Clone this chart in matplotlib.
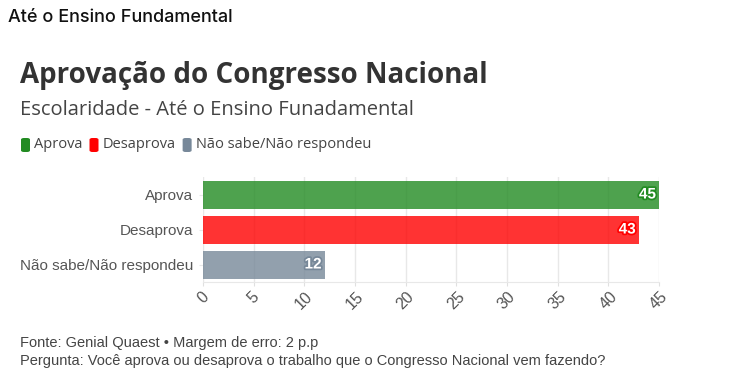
import matplotlib
matplotlib.use("Agg")
import matplotlib.pyplot as plt
import matplotlib.patheffects as pe
from matplotlib.patches import FancyBboxPatch

categories = ["Aprova", "Desaprova", "Não sabe/Não respondeu"]
values = [45, 43, 12]
base_colors = ["#228B22", "#FF0000", "#778899"]
x_ticks = [0, 5, 10, 15, 20, 25, 30, 35, 40, 45]

cond = "Liberation Sans"
head = "Open Sans"

W, H = 745, 390
fig = plt.figure(figsize=(W / 100, H / 100), dpi=100)
fig.patch.set_facecolor("white")

def fx(px):
    return px / W

def fy(py):
    return 1 - py / H

ax = fig.add_axes([fx(203), fy(282), fx(659) - fx(203), (282 - 177) / H])
y = list(range(len(categories)))
ax.barh(y, values, height=0.8, color=base_colors, alpha=0.8, zorder=2)
ax.set_ylim(2.5, -0.5)
ax.set_xlim(0, 45)
ax.set_yticks(y)
ax.set_yticklabels(categories, fontsize=11, color="#555555", family=cond)
ax.set_xticks(x_ticks)
ax.set_xticklabels([str(t) for t in x_ticks], rotation=45, fontsize=11.5,
                   color="#555555", family=cond)
ax.grid(axis="x", color="#e8e8e8", linewidth=1, zorder=0)
ax.grid(axis="y", visible=False)
for s in ["top", "right", "left"]:
    ax.spines[s].set_visible(False)
ax.spines["bottom"].set_color("#e8e8e8")
ax.tick_params(axis="x", length=3, color="#e0e0e0", pad=2)
ax.tick_params(axis="y", length=3, color="#e8e8e8", pad=4)

for yi, v, c in zip(y, values, base_colors):
    ax.text(v - 0.3, yi, str(v), ha="right", va="center", fontsize=11,
            fontweight="bold", color="white", family=cond, zorder=3,
            path_effects=[pe.withStroke(linewidth=2.5, foreground=c)])

fig.text(fx(8), fy(17), "Até o Ensino Fundamental", fontsize=13, color="#111111",
         family="Inter", fontweight="medium", va="center", ha="left")
fig.text(fx(20), fy(75), "Aprovação do Congresso Nacional", fontsize=20,
         fontweight="bold", color="#333333", family=head, va="center", ha="left")
fig.text(fx(20), fy(110), "Escolaridade - Até o Ensino Funadamental", fontsize=14.5,
         color="#444444", family=head, va="center", ha="left")

# legend
lx = 21
for name, c in zip(categories, base_colors):
    box = FancyBboxPatch((fx(lx), fy(152)), fx(9), 14 / H,
                         boxstyle="round,pad=0,rounding_size=0.004",
                         transform=fig.transFigure, facecolor=c, edgecolor="none")
    fig.patches.append(box)
    t = fig.text(fx(lx + 13), fy(145), name, fontsize=10.5, color="#444444",
                 family=head, va="center", ha="left")
    fig.canvas.draw()
    bb = t.get_window_extent()
    lx = bb.x1 + 7

fig.text(fx(20), fy(343), "Fonte: Genial Quaest • Margem de erro: 2 p.p",
         fontsize=10.5, color="#444444", family=cond, va="center", ha="left")
fig.text(fx(20), fy(361),
         "Pergunta: Você aprova ou desaprova o trabalho que o Congresso Nacional vem fazendo?",
         fontsize=10.5, color="#444444", family=cond, va="center", ha="left")

fig.savefig("out.png", dpi=100)
